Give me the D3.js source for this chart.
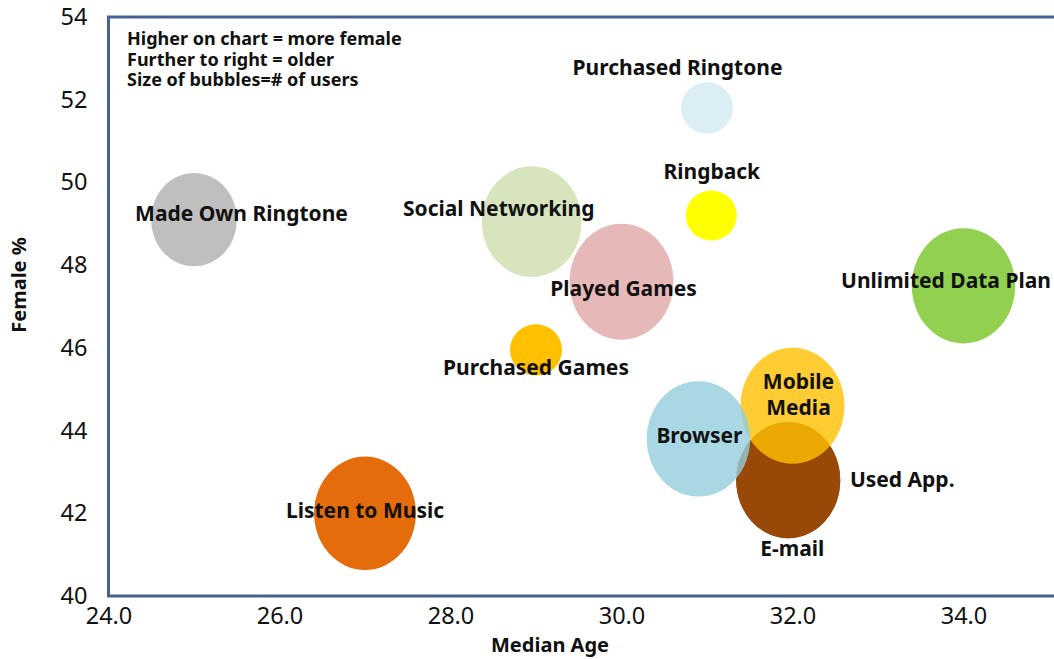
<!DOCTYPE html>
<html>
<head>
<meta charset="utf-8">
<script src="https://cdn.jsdelivr.net/npm/d3@7"></script>
<style>
  html, body { margin: 0; padding: 0; background: #ffffff; overflow: hidden; }
  svg { display: block; font-family: "Noto Sans", "Open Sans", sans-serif; }
</style>
</head>
<body>
<svg id="chart" width="1054" height="659"></svg>
<script>
// ---- data ----
const names = ["Made Own Ringtone", "Listen to Music", "Social Networking", "Purchased Games",
  "Played Games", "Purchased Ringtone", "Ringback", "E-mail", "Used App.", "Mobile Media",
  "Browser", "Unlimited Data Plan"];
const medianAge = [25.0, 27.0, 28.95, 29.0, 30.0, 31.0, 31.05, 31.95, 31.95, 32.0, 30.9, 34.0];
const femalePct = [49.1, 42.0, 49.05, 45.95, 47.6, 51.8, 49.2, 42.8, 42.8, 44.6, 43.8, 47.5];
const users = [68, 96, 92, 25, 100, 25, 24, 100, 100, 100, 99, 99];
const xTicks = [24, 26, 28, 30, 32, 34];
const yTicks = [40, 42, 44, 46, 48, 50, 52, 54];
const notes = ["Higher on chart = more female", "Further to right = older", "Size of bubbles=# of users"];

// ---- styles (kept separate from data) ----
const colors = ["#BFBFBF", "#E46C0A", "#D7E4BD", "#FFC000", "#E6B9B8", "#DBEEF4", "#FFFF00",
  "#984807", "#984807", "#FFC000", "#93CDDD", "#92D050"];
const opacities = [1, 1, 1, 1, 1, 1, 1, 1, 1, 0.8, 0.8, 1];
// label offsets from bubble centre (px)
const labelDx = [47.5, 0, -33, 0, 2, -29.5, 0.5, 4, 114, 6, 1, -17.5];
const labelDy = [-6.5, -3, -13, 18, 6.5, -40.5, -44, 68, -1, -11.3, -3, -5.7];

const svg = d3.select("#chart");
const x = d3.scaleLinear().domain([24, 36]).range([108.5, 108.5 + 12 * 85.5]);
const y = d3.scaleLinear().domain([40, 54]).range([596, 17]);
const rx = d3.scaleSqrt().domain([0, 100]).range([0, 52]);
const ryOf = d3.scaleLinear().domain([25.5, 52]).range([25, 58]);

// bubbles
const idx = d3.range(names.length);
svg.append("g").selectAll("ellipse").data(idx).join("ellipse")
  .attr("cx", i => x(medianAge[i]))
  .attr("cy", i => y(femalePct[i]))
  .attr("rx", i => rx(users[i]))
  .attr("ry", i => ryOf(rx(users[i])))
  .attr("fill", i => colors[i])
  .attr("fill-opacity", i => opacities[i]);

// frame
svg.append("rect")
  .attr("x", x(24)).attr("y", y(54))
  .attr("width", x(36) - x(24)).attr("height", y(40) - y(54))
  .attr("fill", "none").attr("stroke", "#466290").attr("stroke-width", 3);

// axes
const xAxis = svg.append("g").attr("transform", `translate(0,${y(40)})`)
  .call(d3.axisBottom(x).tickValues(xTicks).tickFormat(d3.format(".1f")).tickSize(0).tickPadding(11));
const yAxis = svg.append("g").attr("transform", `translate(${x(24)},0)`)
  .call(d3.axisLeft(y).tickValues(yTicks).tickFormat(d3.format("d")).tickSize(0).tickPadding(21));
[xAxis, yAxis].forEach(a => {
  a.select(".domain").remove();
  a.selectAll("text").attr("font-family", "Noto Sans, sans-serif").attr("font-size", 23.5).attr("fill", "#111");
});

// axis titles
svg.append("text").attr("x", 550).attr("y", 652).attr("text-anchor", "middle")
  .attr("font-size", 20).attr("font-weight", 700).attr("fill", "#111").text("Median Age");
svg.append("text").attr("transform", "translate(26,285) rotate(-90)").attr("text-anchor", "middle")
  .attr("font-size", 20).attr("font-weight", 700).attr("fill", "#111").text("Female %");

// annotation
svg.append("g").selectAll("text").data(notes).join("text")
  .attr("x", 127).attr("y", (d, i) => 45 + i * 20.5)
  .attr("font-size", 18).attr("font-weight", 700).attr("fill", "#111").text(d => d);

// labels
const labels = svg.append("g").selectAll("text").data(idx).join("text")
  .attr("x", i => x(medianAge[i]) + labelDx[i])
  .attr("y", i => y(femalePct[i]) + labelDy[i])
  .attr("text-anchor", "middle")
  .attr("font-size", 21).attr("font-weight", 700).attr("fill", "#111");
labels.each(function(i) {
  const parts = names[i] === "Mobile Media" ? ["Mobile", "Media"] : [names[i]];
  const t = d3.select(this);
  const base = (parts.length - 1) * -12.7;
  parts.forEach((p, k) => {
    t.append("tspan").attr("x", x(medianAge[i]) + labelDx[i])
      .attr("dy", k === 0 ? (base / 21 + 0.36) + "em" : "25.3px").text(p);
  });
});
</script>
</body>
</html>
